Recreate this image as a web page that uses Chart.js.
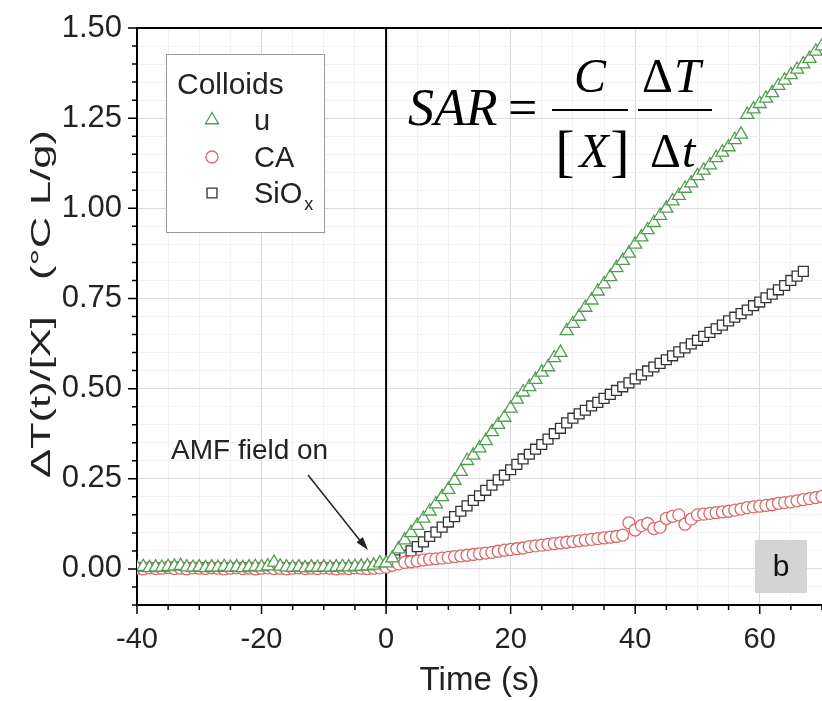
<!DOCTYPE html>
<html>
<head>
<meta charset="utf-8">
<script src="https://cdn.jsdelivr.net/npm/chart.js@4.4.1/dist/chart.umd.min.js"></script>
<style>
  body { margin: 0; background: #fff; }
  #c { display: block; }
</style>
</head>
<body>
<canvas id="c" width="822" height="701"></canvas>
<script>
// =======================
// DADOS
// =======================
const times = [
  -40,-39,-38,-37,-36,-35,-34,-33,-32,-31,-30,-29,-28,-27,-26,-25,-24,-23,-22,-21,
  -20,-19,-18,-17,-16,-15,-14,-13,-12,-11,-10,-9,-8,-7,-6,-5,-4,-3,-2,-1,
  0,1,2,3,4,5,6,7,8,9,10,11,12,13,14,15,16,17,18,19,
  20,21,22,23,24,25,26,27,28,29,30,31,32,33,34,35,36,37,38,39,
  40,41,42,43,44,45,46,47,48,49,50,51,52,53,54,55,56,57,58,59,
  60,61,62,63,64,65,66,67,68,69,70
];

// u (triangulos verdes)
const uVals = [
  0.004,0.006,0.003,0.005,0.004,0.006,0.007,0.009,0.005,0.004,0.005,0.003,0.005,0.004,0.006,0.004,0.005,0.003,0.005,0.006,
  0.005,0.008,0.018,0.007,0.005,0.004,0.005,0.003,0.005,0.004,0.005,0.004,0.005,0.006,0.005,0.006,0.007,0.008,0.010,0.016,
  0.016,0.030,0.055,0.080,0.100,0.120,0.140,0.160,0.180,0.200,0.220,0.245,0.270,0.300,0.315,0.335,0.355,0.380,0.400,0.420,
  0.445,0.470,0.490,0.505,0.525,0.545,0.560,0.585,0.600,0.660,0.680,0.700,0.725,0.745,0.770,0.790,0.810,0.835,0.855,0.875,
  0.900,0.920,0.940,0.960,0.980,1.000,1.020,1.035,1.055,1.070,1.090,1.105,1.120,1.140,1.155,1.170,1.190,1.205,1.260,1.275,
  1.290,1.305,1.320,1.340,1.355,1.370,1.385,1.400,1.415,1.435,1.450
];

// CA (circulos vermelhos)
const caVals = [
  0.002,0.000,0.003,0.001,0.002,0.004,0.001,0.002,0.000,0.003,0.002,0.001,0.003,0.002,0.000,0.002,0.003,0.001,0.002,0.000,
  0.002,0.003,0.001,0.002,0.000,0.002,0.003,0.001,0.002,0.001,0.003,0.002,0.000,0.002,0.001,0.003,0.002,0.001,0.002,0.003,
  0.005,0.010,0.014,0.018,0.020,0.022,0.025,0.027,0.028,0.030,0.032,0.034,0.036,0.038,0.040,0.042,0.044,0.046,0.049,0.052,
  0.054,0.056,0.058,0.062,0.064,0.066,0.068,0.070,0.072,0.074,0.076,0.078,0.080,0.082,0.084,0.086,0.088,0.090,0.094,0.128,
  0.108,0.120,0.126,0.112,0.116,0.140,0.146,0.150,0.124,0.138,0.150,0.152,0.154,0.156,0.158,0.160,0.163,0.166,0.170,0.172,
  0.174,0.176,0.178,0.182,0.184,0.186,0.189,0.192,0.195,0.198,0.201
];

// SiOx (quadrados cinza)
const sioxVals = [
  0.003,0.004,0.002,0.003,0.004,0.003,0.005,0.003,0.002,0.004,0.003,0.004,0.002,0.003,0.004,0.003,0.002,0.004,0.003,0.003,
  0.004,0.003,0.005,0.003,0.002,0.003,0.004,0.003,0.002,0.004,0.003,0.003,0.004,0.002,0.003,0.004,0.003,0.004,0.005,0.006,
  0.008,0.015,0.025,0.038,0.050,0.062,0.075,0.090,0.102,0.116,0.130,0.145,0.160,0.175,0.190,0.203,0.218,0.232,0.247,0.260,
  0.275,0.290,0.305,0.318,0.332,0.345,0.360,0.375,0.390,0.405,0.418,0.430,0.440,0.452,0.462,0.473,0.484,0.495,0.505,0.516,
  0.527,0.538,0.549,0.560,0.570,0.580,0.591,0.602,0.613,0.624,0.634,0.645,0.656,0.666,0.676,0.688,0.698,0.708,0.718,0.730,
  0.740,0.752,0.762,0.774,0.786,0.800,0.812,0.825,null,null,null
];

const xLabels = [-40, -20, 0, 20, 40, 60];
const yLabels = [0, 0.25, 0.5, 0.75, 1, 1.25, 1.5];
const yTitle = '\u0394T(t)/[X]   (\u00b0C L/g)';

const GREEN = '#4f9d4f';
const RED = '#d9696b';
const GREY = '#333333';
const FONT = '"Liberation Sans", Arial, sans-serif';
const SERIF = '"Liberation Serif", "Times New Roman", serif';

const toPts = vals => times.map((t, i) => ({ x: t, y: vals[i] })).filter(p => p.y !== null);

const isMajorX = v => xLabels.some(l => Math.abs(l - v) < 1e-6);
const isMajorY = v => yLabels.some(l => Math.abs(l - v) < 1e-6);

// =======================
// DESENHOS EXTRAS
// =======================
const decor = {
  id: 'decor',
  beforeDraw(chart) {
    const ctx = chart.ctx;
    ctx.save();
    ctx.fillStyle = '#fff';
    ctx.fillRect(0, 0, chart.width, chart.height);
    ctx.restore();
  },
  beforeDatasetsDraw(chart) {
    const { ctx, chartArea: a, scales: { x } } = chart;
    const x0 = x.getPixelForValue(0);
    ctx.save();
    ctx.strokeStyle = '#000';
    ctx.lineWidth = 2;
    ctx.beginPath();
    ctx.moveTo(x0, a.top); ctx.lineTo(x0, a.bottom);
    ctx.moveTo(a.left, a.top); ctx.lineTo(a.right, a.top);
    ctx.stroke();
    ctx.restore();
  },
  afterDraw(chart) {
    const { ctx, chartArea: a, scales: { x, y } } = chart;
    ctx.save();

    // tick marks
    ctx.strokeStyle = '#000';
    ctx.lineWidth = 1.5;
    ctx.beginPath();
    x.ticks.forEach(t => {
      const px = x.getPixelForValue(t.value);
      const len = isMajorX(t.value) ? 9 : 5;
      ctx.moveTo(px, a.bottom); ctx.lineTo(px, a.bottom + len);
    });
    y.ticks.forEach(t => {
      const py = y.getPixelForValue(t.value);
      const len = isMajorY(t.value) ? 9 : 5;
      ctx.moveTo(a.left, py); ctx.lineTo(a.left - len, py);
    });
    ctx.stroke();

    // titulo do eixo y (esticado como no original)
    ctx.save();
    ctx.translate(42, 304);
    ctx.rotate(-Math.PI / 2);
    ctx.scale(1.55, 1);
    ctx.fillStyle = '#222';
    ctx.textAlign = 'center';
    ctx.textBaseline = 'middle';
    ctx.font = '28px ' + FONT;
    ctx.fillText(yTitle, 0, 0);
    ctx.restore();

    // legenda
    ctx.fillStyle = '#fff';
    ctx.fillRect(166, 54, 158, 178);
    ctx.strokeStyle = '#9a9a9a';
    ctx.lineWidth = 1;
    ctx.strokeRect(166.5, 54.5, 158, 178);
    ctx.fillStyle = '#222';
    ctx.textBaseline = 'alphabetic';
    ctx.textAlign = 'left';
    ctx.font = '30px ' + FONT;
    ctx.fillText('Colloids', 177, 94);
    const ds = chart.data.datasets;
    const rows = [120, 157, 193];
    ctx.font = '29px ' + FONT;
    ds.forEach((d, i) => {
      ctx.fillStyle = '#fff';
      ctx.strokeStyle = d.borderColor;
      ctx.lineWidth = d.borderWidth;
      Chart.helpers.drawPoint(ctx, {
        pointStyle: d.pointStyle, radius: d.pointRadius, borderWidth: d.borderWidth
      }, 212, rows[i]);
      ctx.fillStyle = '#222';
      ctx.fillText(i === 2 ? 'SiO' : d.label, 254, rows[i] + 10);
      if (i === 2) {
        const w = ctx.measureText('SiO').width;
        ctx.font = '18px ' + FONT;
        ctx.fillText('x', 256 + w, rows[i] + 17);
        ctx.font = '29px ' + FONT;
      }
    });

    // formula
    ctx.fillStyle = '#000';
    ctx.strokeStyle = '#000';
    ctx.textAlign = 'left';
    ctx.font = 'italic 52px ' + SERIF;
    ctx.fillText('SAR', 408, 125);
    ctx.font = '52px ' + SERIF;
    ctx.fillText('=', 508, 125);
    ctx.lineWidth = 2;
    ctx.beginPath();
    ctx.moveTo(552, 110); ctx.lineTo(628, 110);
    ctx.moveTo(638, 110); ctx.lineTo(712, 110);
    ctx.stroke();
    ctx.textAlign = 'center';
    ctx.font = 'italic 48px ' + SERIF;
    ctx.fillText('C', 590, 92);
    ctx.fillText('X', 594, 167);
    ctx.font = '58px ' + SERIF;
    ctx.fillText('[', 565, 170);
    ctx.fillText(']', 620, 170);
    ctx.textAlign = 'left';
    ctx.font = '48px ' + SERIF;
    ctx.fillText('\u0394', 642, 92);
    ctx.fillText('\u0394', 650, 167);
    ctx.font = 'italic 48px ' + SERIF;
    ctx.fillText('T', 674, 92);
    ctx.fillText('t', 682, 167);

    // AMF field on
    ctx.font = '28px ' + FONT;
    ctx.fillStyle = '#222';
    ctx.textAlign = 'left';
    ctx.fillText('AMF field on', 171, 459);
    ctx.strokeStyle = '#222';
    ctx.lineWidth = 1.5;
    ctx.beginPath();
    ctx.moveTo(308, 475); ctx.lineTo(362, 543);
    ctx.stroke();
    const ang = Math.atan2(550 - 475, 368 - 308);
    ctx.beginPath();
    ctx.moveTo(368, 550);
    ctx.lineTo(368 - 14 * Math.cos(ang - 0.3), 550 - 14 * Math.sin(ang - 0.3));
    ctx.lineTo(368 - 14 * Math.cos(ang + 0.3), 550 - 14 * Math.sin(ang + 0.3));
    ctx.closePath();
    ctx.fill();

    // painel b
    ctx.fillStyle = '#d4d4d4';
    ctx.fillRect(755, 540, 52, 53);
    ctx.fillStyle = '#111';
    ctx.textAlign = 'center';
    ctx.textBaseline = 'middle';
    ctx.font = '30px ' + FONT;
    ctx.fillText('b', 781, 568);

    ctx.restore();
  }
};

// =======================
// GRAFICO
// =======================
const mk = (label, vals, color, style, r) => ({
  label,
  data: toPts(vals),
  showLine: false,
  pointStyle: style,
  pointRadius: r,
  pointHoverRadius: r,
  borderColor: color,
  backgroundColor: '#fff',
  borderWidth: 1.3
});

new Chart(document.getElementById('c'), {
  type: 'scatter',
  data: {
    datasets: [
      mk('u', uVals, GREEN, 'triangle', 7.5),
      mk('CA', caVals, RED, 'circle', 6),
      mk('SiOx', sioxVals, GREY, 'rect', 7)
    ]
  },
  options: {
    responsive: false,
    devicePixelRatio: 1,
    animation: false,
    layout: { autoPadding: false, padding: { top: 28, right: 0, left: 0, bottom: 0 } },
    plugins: { legend: { display: false }, tooltip: { enabled: false } },
    scales: {
      x: {
        type: 'linear',
        min: -40, max: 70,
        afterFit: s => { s.height = 96; s.paddingRight = 0; s.paddingLeft = 0; },
        ticks: {
          stepSize: 5,
          autoSkip: false,
          maxRotation: 0,
          padding: 18,
          color: '#222',
          font: { family: FONT, size: 29 },
          callback: v => isMajorX(v) ? String(v) : ''
        },
        grid: {
          drawTicks: false,
          color: c => isMajorX(c.tick.value) ? '#dadada' : '#f1f1f1',
          lineWidth: 1
        },
        border: { color: '#000', width: 2 },
        title: {
          display: true, text: 'Time (s)', color: '#222',
          font: { family: FONT, size: 33 },
          padding: { top: 0, bottom: 0 }
        }
      },
      y: {
        min: -0.1, max: 1.5,
        afterFit: s => { s.width = 137; s.paddingTop = 0; s.paddingBottom = 0; },
        ticks: {
          stepSize: 0.05,
          autoSkip: false,
          padding: 15,
          color: '#222',
          font: { family: FONT, size: 31 },
          callback: v => isMajorY(v) ? v.toFixed(2) : ''
        },
        grid: {
          drawTicks: false,
          color: c => isMajorY(c.tick.value) ? '#dadada' : '#f1f1f1',
          lineWidth: 1
        },
        border: { color: '#000', width: 2 }
      }
    }
  },
  plugins: [decor]
});
</script>
</body>
</html>
